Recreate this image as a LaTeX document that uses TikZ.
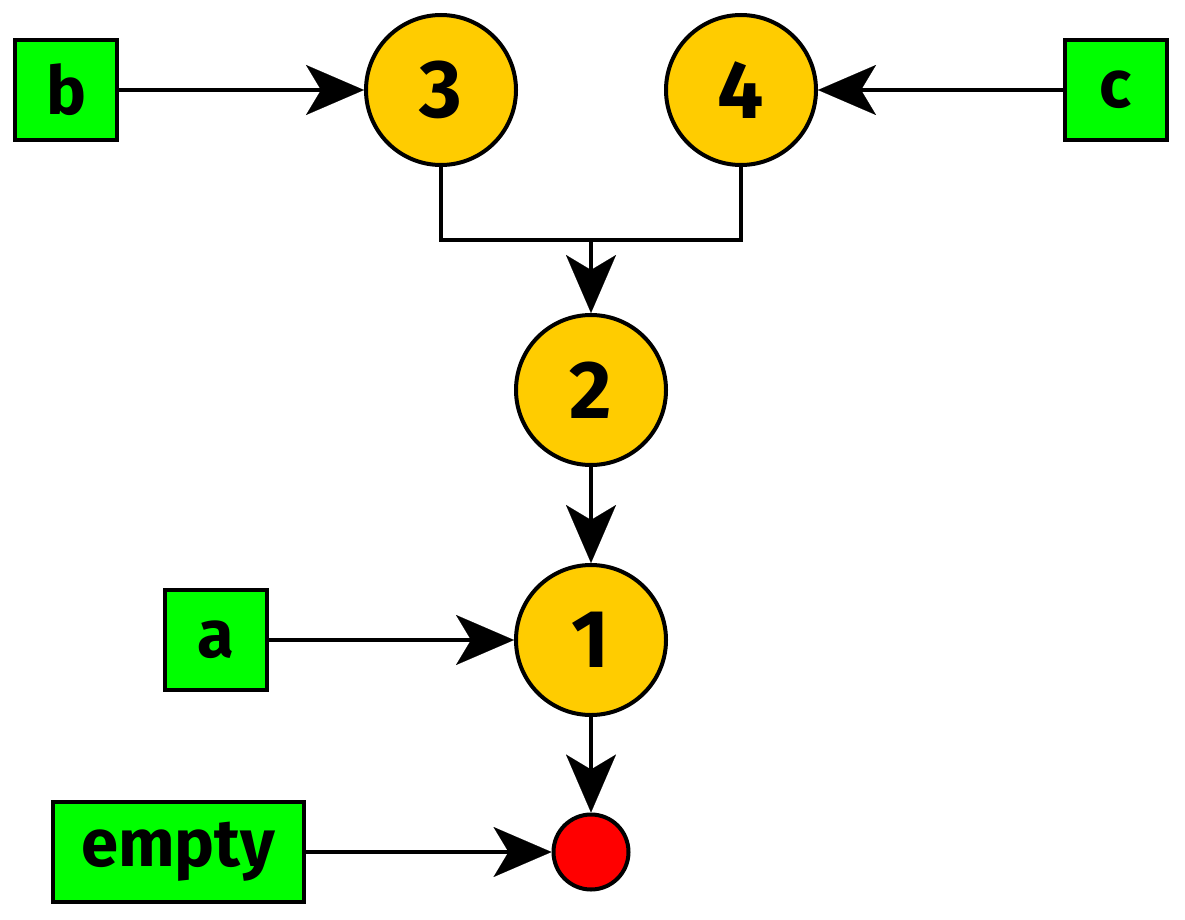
\documentclass[tikz,border=0pt]{standalone}
\usepackage{fontspec}
\setmainfont{Fira Sans}
\usetikzlibrary{arrows.meta}
\begin{document}
\begin{tikzpicture}[x=1pt,y=-1pt,
  every node/.style={line width=4pt, draw=black},
  op/.style={circle, fill={rgb,255:red,255;green,204;blue,0}, minimum size=150pt, inner sep=0pt, font=\fontsize{82}{82}\selectfont\bfseries},
  leaf/.style={rectangle, fill={rgb,255:red,0;green,255;blue,0}, minimum height=100pt, inner sep=0pt, font=\fontsize{67}{67}\selectfont\bfseries},
  sink/.style={circle, fill=red, minimum size=75pt, inner sep=0pt},
  conn/.style={line width=4pt, -{Stealth[length=58pt,width=50pt,inset=15pt,line width=0.1pt]}},
  plain/.style={line width=4pt}]
\useasboundingbox (0,0) rectangle (1185,920);
\node[op] (n3) at (441,90) {3};
\node[op] (n4) at (741,90) {4};
\node[op] (n2) at (591,390) {2};
\node[op] (n1) at (591,640) {1};
\node[sink] (e) at (591,852) {};
\node[leaf, minimum width=102pt] (b) at (66,90) {b};
\node[leaf, minimum width=102pt] (c) at (1116,90) {c};
\node[leaf, minimum width=102pt] (a) at (216,640) {a};
\node[leaf, minimum width=251pt] (em) at (178,852) {empty};
\coordinate (j) at (591,240);
\draw[conn] (b) -- (n3);
\draw[conn] (c) -- (n4);
\draw[plain] (n3.south) |- (j) -| (n4.south);
\draw[conn] (j) -- (n2);
\draw[conn] (n2) -- (n1);
\draw[conn] (a) -- (n1);
\draw[conn] (n1) -- (e);
\draw[conn] (em) -- (e);
\end{tikzpicture}
\end{document}
